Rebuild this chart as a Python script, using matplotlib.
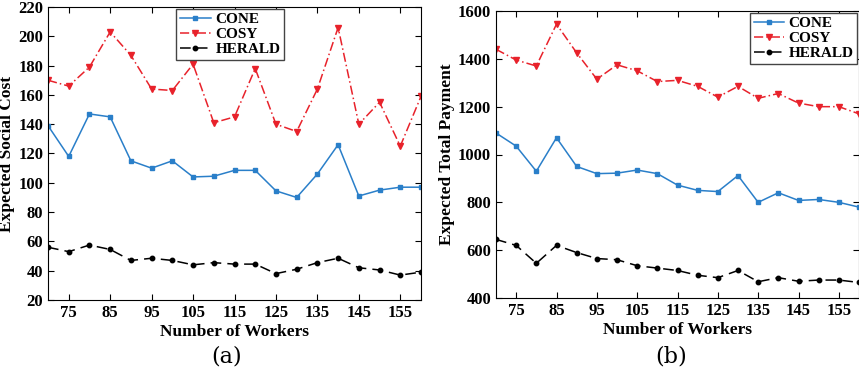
import matplotlib.pyplot as plt

plt.rcParams['font.family'] = ['Liberation Serif', 'DejaVu Serif']

workers = [70, 75, 80, 85, 90, 95, 100, 105, 110, 115, 120, 125, 130, 135, 140, 145, 150, 155, 160]

# (a) expected social cost
cost_cone = [139, 118, 147, 145, 115, 110, 115, 104, 104.5, 108.5, 108.5, 94.5, 90, 106, 126, 91, 95, 97, 97]
cost_cosy = [170, 166, 179, 203, 187, 164, 163, 181, 141, 145, 178, 140, 135, 164, 206, 140, 155, 125, 159]
cost_herald = [56, 53, 57.5, 54.5, 47, 48.5, 47, 44, 45.5, 44.5, 44.5, 38, 41, 45.5, 48.5, 42, 40.5, 37, 39]

# (b) expected total payment
pay_cone = [1090, 1035, 930, 1070, 950, 920, 922, 935, 920, 872, 850, 845, 912, 800, 840, 808, 812, 800, 780]
pay_cosy = [1440, 1395, 1370, 1545, 1425, 1315, 1375, 1350, 1305, 1310, 1285, 1240, 1285, 1235, 1255, 1215, 1200, 1200, 1170]
pay_herald = [645, 620, 545, 620, 590, 565, 560, 535, 525, 515, 495, 485, 515, 468, 485, 470, 475, 475, 465]

xticks = [75, 85, 95, 105, 115, 125, 135, 145, 155]

fig = plt.figure(figsize=(8.59, 3.78), dpi=100)
ax1 = fig.add_axes([48/859, 1-300/378, 373/859, 293/378])
ax2 = fig.add_axes([496/859, 1-298/378, 363/859, 287/378])

def draw(ax, cone, cosy, herald):
    ax.plot(workers, cone, color='#2a7fc9', marker='s', markersize=3.5, lw=1.1, label='CONE')
    ax.plot(workers, cosy, color='#e8222b', marker='v', markersize=4.5, lw=1.1, ls=(0, (6, 2, 1, 2)), label='COSY')
    ax.plot(workers, herald, color='black', marker='o', markersize=3.2, lw=1.1, ls=(0, (7, 4)), label='HERALD')
    ax.set_xlim(70, 160)
    ax.set_xticks(xticks)
    ax.tick_params(direction='in', top=True, right=True, labelsize=12, length=4)
    ax.set_xlabel('Number of Workers', fontsize=12.5, fontweight='bold', labelpad=2)

def bold_ticks(ax):
    for lab in ax.get_xticklabels() + ax.get_yticklabels():
        lab.set_fontweight('bold')

legend_kw = dict(prop={'weight': 'bold', 'size': 11}, fancybox=False, edgecolor='#444444',
                 borderpad=0.25, labelspacing=0.1, handlelength=2.0, handletextpad=0.3,
                 borderaxespad=0.1, framealpha=1)

draw(ax1, cost_cone, cost_cosy, cost_herald)
ax1.set_ylim(20, 220)
ax1.set_yticks(range(20, 221, 20))
bold_ticks(ax1)
ax1.set_ylabel('Expected Social Cost', fontsize=12.5, fontweight='bold', labelpad=2)
ax1.legend(loc='upper left', bbox_to_anchor=(0.34, 1.0), **legend_kw)

draw(ax2, pay_cone, pay_cosy, pay_herald)
ax2.set_ylim(400, 1600)
ax2.set_yticks(range(400, 1601, 200))
bold_ticks(ax2)
ax2.set_ylabel('Expected Total Payment', fontsize=12.5, fontweight='bold', labelpad=2)
ax2.legend(loc='upper right', **legend_kw)

fig.text(227/859, 1-357/378, '(a)', fontsize=16, ha='center', va='center', family='DejaVu Serif')
fig.text(671/859, 1-357/378, '(b)', fontsize=16, ha='center', va='center', family='DejaVu Serif')

fig.savefig('out.png', dpi=100)
